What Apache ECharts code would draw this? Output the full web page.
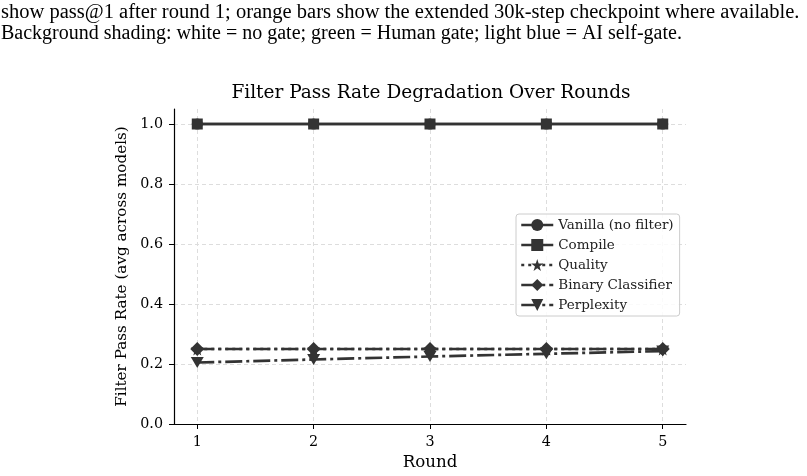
<!DOCTYPE html>
<html><head><meta charset="utf-8">
<script src="https://cdn.jsdelivr.net/npm/echarts@6/dist/echarts.min.js"></script>
<style>html,body{margin:0;padding:0;background:#fff}#c{width:807px;height:476px}</style>
</head><body><div id="c"></div>
<script>
// ---- data ----
const rounds = [1, 2, 3, 4, 5];
const vanilla = [1.0, 1.0, 1.0, 1.0, 1.0];
const compile = [1.0, 1.0, 1.0, 1.0, 1.0];
const quality = [0.25, 0.25, 0.25, 0.25, 0.25];
const binaryClassifier = [0.25, 0.25, 0.25, 0.25, 0.25];
const perplexity = [0.205, 0.215, 0.225, 0.234, 0.243];
const seriesNames = ['Vanilla (no filter)', 'Compile', 'Quality', 'Binary Classifier', 'Perplexity'];
const xTicks = [1, 2, 3, 4, 5];
const yTicks = [0, 0.2, 0.4, 0.6, 0.8, 1.0];
const captionLines = [
  'show pass@1 after round 1; orange bars show the extended 30k-step checkpoint where available.',
  'Background shading: white = no gate; green = Human gate; light blue = AI self-gate.'
];
const titleText = 'Filter Pass Rate Degradation Over Rounds';
const xLabel = 'Round';
const yLabel = 'Filter Pass Rate (avg across models)';

// ---- styling ----
const C = '#333333';
const SERIF = '"DejaVu Serif", serif';
const STAR = 'path://M50,0 L61.2,34.5 L97.6,34.5 L68.2,55.9 L79.4,90.5 L50,69.1 L20.6,90.5 L31.8,55.9 L2.4,34.5 L38.8,34.5 Z';
const TRI_DOWN = 'path://M0,0 L20,0 L10,17.3 Z';
const DASHDOT = [17, 4, 3, 4];

const pairs = arr => rounds.map((r, i) => [r, arr[i]]);
const seriesDefs = [
  { data: vanilla, symbol: 'circle', size: 11, type: 'solid' },
  { data: compile, symbol: 'rect', size: 11, type: 'solid' },
  { data: quality, symbol: STAR, size: 13, type: [3, 4] },
  { data: binaryClassifier, symbol: 'diamond', size: 14, type: DASHDOT },
  { data: perplexity, symbol: TRI_DOWN, size: [13, 11], type: DASHDOT }
];

const chart = echarts.init(document.getElementById('c'), null, { renderer: 'canvas' });
chart.setOption({
  animation: false,
  backgroundColor: '#fff',
  grid: { left: 174, right: 121, top: 109, bottom: 52, containLabel: false },
  xAxis: {
    type: 'value', min: 0.8, max: 5.2,
    name: xLabel, nameLocation: 'middle', nameGap: 30,
    nameTextStyle: { fontFamily: SERIF, fontSize: 16.67, color: '#000' },
    axisLine: { show: true, lineStyle: { color: '#000', width: 1.2 } },
    axisTick: { show: true, customValues: xTicks, length: 5, lineStyle: { color: '#000', width: 1 } },
    axisLabel: { customValues: xTicks, margin: 11, fontFamily: SERIF, fontSize: 14.3, color: '#000' },
    splitLine: { show: true, lineStyle: { color: '#dddddd', type: [4, 3], width: 1 } }
  },
  yAxis: {
    type: 'value', min: 0, max: 1.05,
    name: yLabel, nameLocation: 'middle', nameGap: 43, nameRotate: 90,
    nameTextStyle: { fontFamily: SERIF, fontSize: 15.2, color: '#000' },
    axisLine: { show: true, lineStyle: { color: '#000', width: 1.2 } },
    axisTick: { show: true, customValues: yTicks, length: 5, lineStyle: { color: '#000', width: 1 } },
    axisLabel: { customValues: yTicks, margin: 11, fontFamily: SERIF, fontSize: 14.3, color: '#000',
      formatter: v => v.toFixed(1) },
    splitLine: { show: true, lineStyle: { color: '#dddddd', type: [4, 3], width: 1 } }
  },
  legend: {
    orient: 'vertical', left: 516, top: 214,
    padding: [4, 6, 4, 4], itemGap: 6, itemWidth: 32, itemHeight: 15,
    backgroundColor: 'rgba(255,255,255,0.85)', borderColor: '#cccccc', borderWidth: 1, borderRadius: 3,
    textStyle: { fontFamily: SERIF, fontSize: 13.5, color: '#222', lineHeight: 14 },
    lineStyle: { width: 2.5 },
    data: seriesNames
  },
  graphic: [
    { type: 'text', left: 1, top: 3, scaleX: 1.026,
      style: { text: captionLines[0], font: '20px "Liberation Serif"', fill: '#000' } },
    { type: 'text', left: 1, top: 24,
      style: { text: captionLines[1], font: '20px "Liberation Serif"', fill: '#000' } },
    { type: 'text', x: 431, y: 93,
      style: { text: titleText, font: '18.5px "DejaVu Serif"', fill: '#000', align: 'center', verticalAlign: 'middle' } }
  ],
  series: seriesDefs.map((d, i) => ({
    name: seriesNames[i], type: 'line', data: pairs(d.data),
    symbol: d.symbol, symbolSize: d.size, showSymbol: true,
    lineStyle: { color: C, width: 2.7, type: d.type },
    itemStyle: { color: C, borderWidth: 0 },
    emphasis: { disabled: true }
  }))
});
</script>
</body></html>
